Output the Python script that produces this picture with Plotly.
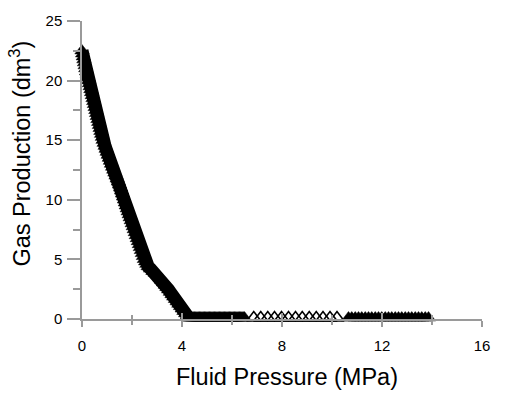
import plotly.graph_objects as go

# Filled-triangle series: descending part (Fluid Pressure MPa, Gas Production dm3)
fall_x = [0.0, 0.025, 0.051, 0.076, 0.100, 0.126, 0.151, 0.181, 0.211, 0.241,
          0.27, 0.298, 0.327, 0.355, 0.383, 0.411, 0.441, 0.469, 0.497, 0.525,
          0.554, 0.582, 0.610, 0.638, 0.667, 0.696, 0.724, 0.754, 0.783, 0.813,
          0.842, 0.883, 0.923, 0.964, 1.004, 1.048, 1.091, 1.134, 1.177, 1.224,
          1.269, 1.315, 1.361, 1.407, 1.453, 1.499, 1.544, 1.582, 1.62, 1.658,
          1.696, 1.733, 1.771, 1.809, 1.847, 1.888, 1.928, 1.969, 2.009, 2.05,
          2.09, 2.131, 2.171, 2.212, 2.252, 2.293, 2.333, 2.374, 2.414, 2.455,
          2.495, 2.546, 2.595, 2.646, 2.743, 2.840, 2.933, 3.056, 3.124, 3.192,
          3.261, 3.329, 3.397, 3.466, 3.534, 3.602, 3.67, 3.738, 3.806, 3.874,
          3.942, 4.01, 4.078, 4.147, 4.212, 4.266]
fall_y = [22.5, 22.25, 22.0, 21.75, 21.5, 21.25, 21.0, 20.75, 20.5, 20.25,
          20.0, 19.75, 19.5, 19.25, 19.0, 18.75, 18.5, 18.25, 18.0, 17.75,
          17.5, 17.25, 17.0, 16.75, 16.5, 16.25, 16.0, 15.75, 15.5, 15.25,
          15.0, 14.75, 14.5, 14.25, 14.0, 13.75, 13.5, 13.25, 13.0, 12.75,
          12.5, 12.25, 12.0, 11.75, 11.5, 11.25, 11.0, 10.75, 10.5, 10.25,
          10.0, 9.75, 9.5, 9.25, 9.0, 8.75, 8.5, 8.25, 8.0, 7.75,
          7.5, 7.25, 7.0, 6.75, 6.5, 6.25, 6.0, 5.75, 5.5, 5.25,
          5.0, 4.8, 4.6, 4.4, 4.2, 4.0, 3.85, 3.65, 3.45, 3.25,
          3.05, 2.85, 2.65, 2.45, 2.25, 2.05, 1.85, 1.65, 1.45, 1.25,
          1.05, 0.85, 0.65, 0.45, 0.25, 0.1]

# Filled-triangle series: flat part after depletion
flat1_x = [4.30, 4.35, 4.40, 4.45, 4.50, 4.55, 4.60, 4.65, 4.70, 4.75,
           4.80, 4.85, 4.90, 4.95, 5.00, 5.05, 5.10, 5.15, 5.20, 5.25,
           5.30, 5.35, 5.40, 5.45, 5.50, 5.55, 5.60, 5.65, 5.70, 5.75,
           5.80, 5.85, 5.90, 5.95, 6.00, 6.05, 6.10, 6.15, 6.20, 6.25,
           6.30, 6.35, 6.40, 6.45, 6.50]
flat1_y = [0.1] * len(flat1_x)

flat2_x = [10.66, 10.79, 10.93, 11.06, 11.19, 11.33, 11.46, 11.59, 11.73,
           11.86, 11.99, 12.13, 12.26, 12.39, 12.53, 12.66, 12.79, 12.93,
           13.06, 13.19, 13.33, 13.46, 13.59, 13.73, 13.86]
flat2_y = [0.1] * len(flat2_x)

# Open-triangle series
open_x = [6.87, 7.15, 7.43, 7.70, 7.98, 8.26, 8.54, 8.81, 9.09, 9.37, 9.64, 9.92, 10.20]
open_y = [0.1] * len(open_x)

x_ticks = [0, 4, 8, 12, 16]
y_ticks = [0, 5, 10, 15, 20, 25]

FONT = "Liberation Sans, Arial, sans-serif"
GREY = "#9a9a9a"
MSIZE = 12.5

fig = go.Figure()
fig.add_trace(go.Scatter(
    x=fall_x, y=fall_y, mode="lines+markers", cliponaxis=False,
    line=dict(color="black", width=13),
    marker=dict(symbol="triangle-up", size=MSIZE, color="black",
                line=dict(color="black", width=0.5)),
    showlegend=False, hoverinfo="skip"))
fig.add_trace(go.Scatter(
    x=flat1_x + flat2_x, y=flat1_y + flat2_y, mode="markers", cliponaxis=False,
    marker=dict(symbol="triangle-up", size=MSIZE, color="black",
                line=dict(color="black", width=0.5)),
    showlegend=False, hoverinfo="skip"))
fig.add_trace(go.Scatter(
    x=open_x, y=open_y, mode="markers", cliponaxis=False, xaxis="x2",
    marker=dict(symbol="triangle-up-open", size=MSIZE, color="black",
                line=dict(color="black", width=1.6)),
    showlegend=False, hoverinfo="skip"))

fig.update_layout(
    width=520, height=394,
    margin=dict(l=82, r=38, t=18, b=75),
    paper_bgcolor="white", plot_bgcolor="white",
    font=dict(family=FONT, color="black", size=15),
    xaxis=dict(range=[0, 16], tickvals=x_ticks, ticktext=[str(v) for v in x_ticks],
               showgrid=False, zeroline=False, showline=True, linecolor=GREY,
               linewidth=1.5, ticks="outside", ticklen=6, tickcolor=GREY,
               tickwidth=1.5, ticklabelstandoff=6,
               minor=dict(dtick=2, tick0=0, ticks="outside", ticklen=4,
                          tickcolor=GREY, tickwidth=1.5, showgrid=False),
               tickfont=dict(size=15, family=FONT, color="black")),
    xaxis2=dict(range=[0, 16], overlaying="x", anchor="y", side="bottom",
                tickvals=x_ticks, showticklabels=False, showgrid=False,
                zeroline=False, showline=False, ticks="inside", ticklen=6,
                tickcolor=GREY, tickwidth=1.5,
                minor=dict(dtick=2, tick0=0, ticks="inside", ticklen=4,
                           tickcolor=GREY, tickwidth=1.5, showgrid=False)),
    yaxis=dict(range=[0, 25], tickvals=y_ticks, ticktext=[str(v) for v in y_ticks],
               showgrid=False, zeroline=False, showline=True, linecolor=GREY,
               linewidth=1.5, ticks="outside", ticklen=13, tickcolor=GREY,
               tickwidth=1.5, ticklabelstandoff=2,
               minor=dict(dtick=2.5, tick0=0, ticks="outside", ticklen=7,
                          tickcolor=GREY, tickwidth=1.5, showgrid=False),
               tickfont=dict(size=15, family=FONT, color="black")),
    annotations=[
        dict(text="Fluid Pressure (MPa)", xref="paper", yref="paper",
             x=0.5125, y=-0.196, xanchor="center", yanchor="middle",
             showarrow=False, font=dict(size=23.5, family=FONT, color="black")),
        dict(text="Gas Production (dm<sup>3</sup>)", xref="paper", yref="paper",
             x=-0.155, y=0.555, xanchor="center", yanchor="middle", textangle=-90,
             showarrow=False, font=dict(size=23.5, family=FONT, color="black")),
    ],
)

fig.write_html("out.html")
